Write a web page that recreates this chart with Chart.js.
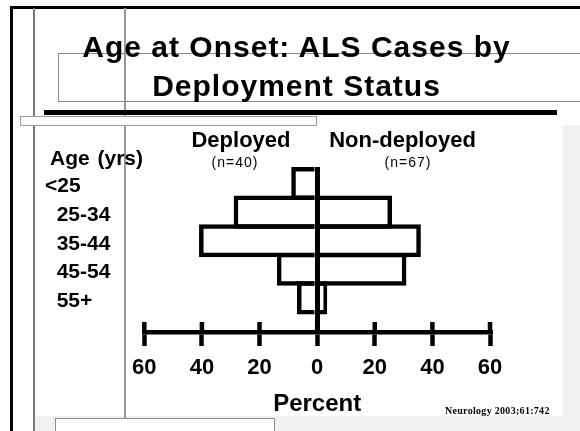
<!DOCTYPE html>
<html>
<head>
<meta charset="utf-8">
<script src="https://cdn.jsdelivr.net/npm/chart.js@4.4.1/dist/chart.umd.min.js"></script>
<style>
  html, body { margin: 0; padding: 0; background: #fff; }
  #wrap { position: relative; width: 580px; height: 431px; overflow: hidden; font-family: "Liberation Sans", Arial, sans-serif; }
  .d { position: absolute; box-sizing: border-box; }
  .t { position: absolute; white-space: nowrap; font-weight: bold; color: #000; line-height: 1; }
  .c { text-align: center; width: 300px; }
  .w { text-align: center; width: 600px; }
  #cw { position: absolute; left: 0; top: 0; width: 580px; height: 431px; }
</style>
</head>
<body>
<div id="wrap">
  <!-- slide decorations -->
  <div class="d" style="left:563px;top:125px;width:17px;height:306px;background:#f1f1f1;"></div>
  <div class="d" style="left:35px;top:416px;width:545px;height:15px;background:#f1f1f1;"></div>
  <div class="d" style="left:10px;top:6px;width:3px;height:425px;background:#000;"></div>
  <div class="d" style="left:10px;top:6px;width:570px;height:3px;background:#000;"></div>
  <div class="d" style="left:33px;top:8px;width:2px;height:423px;background:#7a7a7a;"></div>
  <div class="d" style="left:124px;top:8px;width:1.5px;height:410px;background:#999;"></div>
  <div class="d" style="left:58px;top:53px;width:540px;height:49px;border:1.5px solid #8a8a8a;"></div>
  <div class="d" style="left:44px;top:110px;width:513px;height:4.5px;background:#000;"></div>
  <div class="d" style="left:20px;top:116px;width:297px;height:10px;border:1.5px solid #999;background:#fff;"></div>
  <div class="d" style="left:55px;top:418px;width:220px;height:30px;border:1.5px solid #8a8a8a;background:#fff;"></div>

  <div id="cw"><canvas id="c"></canvas></div>

  <!-- texts -->
  <div class="t w" style="left:-3.5px;top:32px;font-size:30px;letter-spacing:1px;">Age at Onset: ALS Cases by</div>
  <div class="t w" style="left:-3.5px;top:71px;font-size:30px;letter-spacing:1px;">Deployment Status</div>
  <div class="t c" style="left:91px;top:128.5px;font-size:22px;">Deployed</div>
  <div class="t c" style="left:252.5px;top:128.5px;font-size:22px;">Non-deployed</div>
  <div class="t c" style="left:85px;top:155px;font-size:14px;font-weight:normal;letter-spacing:1px;">(n=40)</div>
  <div class="t c" style="left:258px;top:155px;font-size:14px;font-weight:normal;letter-spacing:1px;">(n=67)</div>
  <div class="t" style="left:50px;top:147px;font-size:21px;word-spacing:2px;">Age (yrs)</div>
  <div class="t" style="left:445px;top:406px;font-size:10px;letter-spacing:0.3px;font-family:'Liberation Serif','Times New Roman',serif;">Neurology 2003;61:742</div>
</div>

<script>
// ---- data ----
const ageGroups   = ['<25', '25-34', '35-44', '45-54', '55+'];
const deployed    = [9, 29, 41, 14, 7];      // percent of deployed cases (n=40)
const nonDeployed = [0, 26, 36, 31, 3.5];    // percent of non-deployed cases (n=67)
const percentTicks = [-60, -40, -20, 0, 20, 40, 60];

const FONT = '"Liberation Sans", Arial, sans-serif';

// small upward stubs on the axis tick marks
const tickStubs = {
  id: 'tickStubs',
  afterDraw(chart) {
    const xs = chart.scales.x;
    const ctx = chart.ctx;
    const b = chart.chartArea.bottom;
    ctx.save();
    ctx.strokeStyle = '#000';
    ctx.lineWidth = 4.5;
    xs.ticks.forEach((t, i) => {
      const px = xs.getPixelForTick(i);
      ctx.beginPath();
      ctx.moveTo(px, b - 10);
      ctx.lineTo(px, b);
      ctx.stroke();
    });
    ctx.restore();
  }
};

const barStyle = {
  backgroundColor: 'rgba(255,255,255,0)',
  borderColor: '#000',
  borderWidth: 4.5,
  grouped: false,
  barPercentage: 1.157,
  categoryPercentage: 1
};

new Chart(document.getElementById('c'), {
  type: 'bar',
  data: {
    datasets: [
      Object.assign({ label: 'Deployed', data: deployed.map((v, i) => ({ x: -v, y: i })) }, barStyle),
      Object.assign({ label: 'Non-deployed', data: nonDeployed.map((v, i) => ({ x: v, y: i })) }, barStyle)
    ]
  },
  options: {
    indexAxis: 'y',
    responsive: true,
    maintainAspectRatio: false,
    animation: false,
    layout: { padding: { left: 45, right: 90, top: 167, bottom: 0 } },
    plugins: { legend: { display: false }, tooltip: { enabled: false }, title: { display: false } },
    scales: {
      x: {
        type: 'linear',
        min: -60, max: 60,
        offset: false,
        afterBuildTicks: s => { s.ticks = percentTicks.map(v => ({ value: v })); },
        afterFit: s => { s.height = 99; },
        border: { display: true, color: '#000', width: 4.5 },
        grid: {
          offset: false,
          drawOnChartArea: true,
          color: c => (c.tick && c.tick.value === 0) ? '#000' : 'rgba(0,0,0,0)',
          lineWidth: 5,
          drawTicks: true,
          tickColor: '#000',
          tickWidth: 4.5,
          tickLength: 14
        },
        ticks: {
          padding: 9,
          color: '#000',
          maxRotation: 0,
          font: { family: FONT, size: 22, weight: 'bold' },
          callback: v => String(Math.abs(v))
        },
        title: {
          display: true,
          text: 'Percent',
          color: '#000',
          font: { family: FONT, size: 24, weight: 'bold' },
          padding: { top: 4, bottom: 12 }
        }
      },
      y: {
        type: 'linear',
        reverse: true,
        offset: false,
        bounds: 'data',
        min: -0.577, max: 5.192,
        afterBuildTicks: s => { s.ticks = ageGroups.map((g, i) => ({ value: i })); },
        afterFit: s => { s.width = 99.3; },
        grid: { display: false, offset: false },
        border: { display: false },
        ticks: {
          crossAlign: 'far',
          padding: 0,
          labelOffset: 3,
          autoSkip: false,
          color: '#000',
          font: { family: FONT, size: 21, weight: 'bold' },
          callback: v => (v === 0 ? '' : '  ') + ageGroups[v]
        }
      }
    }
  },
  plugins: [tickStubs]
});
</script>
</body>
</html>
